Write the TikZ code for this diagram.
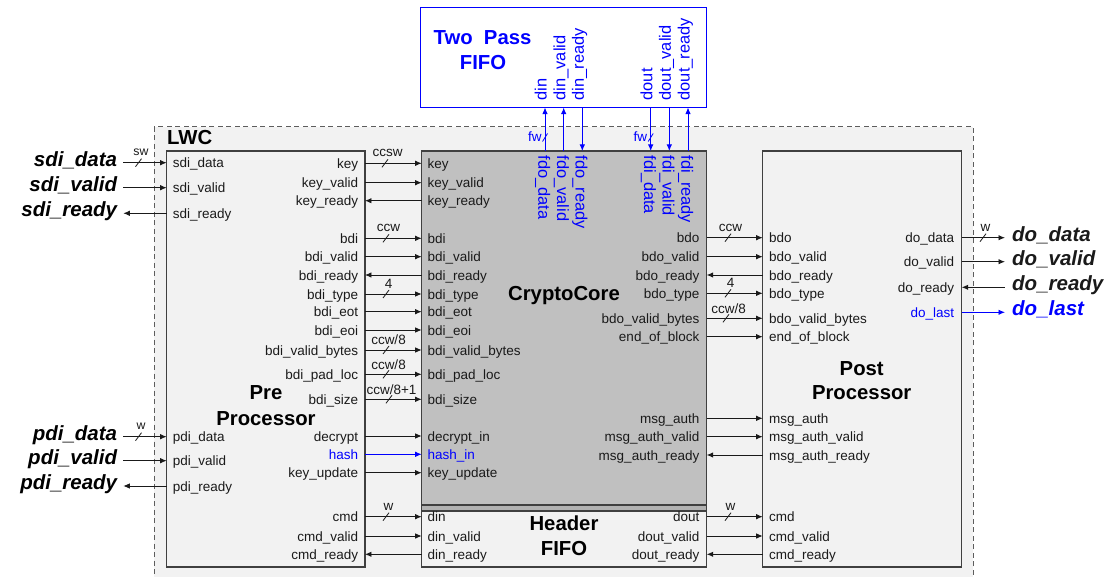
\documentclass[tikz,border=0pt]{standalone}
\usepackage{fontspec}
\setmainfont{Liberation Sans}
\usetikzlibrary{arrows.meta}
\definecolor{bg}{HTML}{F2F2F2}
\definecolor{coregray}{HTML}{C0C0C0}
\definecolor{edge}{HTML}{404040}
\definecolor{wirec}{HTML}{1A1A1A}
\definecolor{fblue}{HTML}{0000FF}
\newcommand\busmark[5][13.5]{%
  \draw[wire,line width=0.8pt] (#3-3,#4+4) -- (#3+3,#4-4);
  \node[buslab,font=\fontsize{#1}{#1}\selectfont] (#2) at (#3+2.5,#4-10) {#5};}
\begin{document}
\begin{tikzpicture}[x=1pt,y=-1pt,
  lab/.style={font=\fontsize{13.5}{15}\selectfont, inner sep=0pt, text=wirec},
  labR/.style={lab, anchor=mid east},
  labL/.style={lab, anchor=mid west},
  vlab/.style={font=\fontsize{16.4}{18}\selectfont, inner sep=0pt, text=fblue},
  vlabU/.style={vlab, rotate=90, anchor=mid west},
  vlabD/.style={vlab, rotate=-90, anchor=mid west},
  ext/.style={font=\fontsize{20.5}{23}\selectfont\bfseries\itshape, inner ysep=0pt, text=black},
  title/.style={font=\fontsize{20.3}{23}\selectfont\bfseries, inner sep=0pt, anchor=base, text=black},
  buslab/.style={inner sep=0pt, text=wirec},
  wire/.style={draw=wirec, line width=0.9pt},
  tor/.style={-{Latex[length=6.5pt,width=5.5pt]}},
  tol/.style={{Latex[length=6.5pt,width=5.5pt]}-},
  blk/.style={draw=edge, line width=1.1pt, inner sep=0pt, outer sep=0pt}]
\useasboundingbox (0,0) rectangle (1111,577);
\clip (0,0) rectangle (1111,577);
\fill[white] (0,0) rectangle (1111,577);
% LWC region
\draw[draw=edge!85, fill=bg, line width=1pt, dash pattern=on 5pt off 3.5pt] (154,127) rectangle (973.3,600);
\node[title, anchor=base west] (lwc) at (167,145) {LWC};
% blocks
\node[blk, fill=bg, minimum width=198.3pt, minimum height=416pt] (pre) at (265.8,359) {};
\node[blk, fill=coregray, minimum width=285pt, minimum height=354pt] (core) at (564.2,328) {};
\node[blk, fill=gray!60, line width=1.4pt, minimum width=285pt, minimum height=6pt] (band) at (564.2,508) {};
\node[blk, fill=bg, minimum width=285pt, minimum height=56pt] (hfifo) at (564.2,539) {};
\node[blk, fill=bg, minimum width=199pt, minimum height=416pt] (post) at (862.2,359) {};
\node[draw=fblue, line width=1pt, fill=white, minimum width=286pt, minimum height=99.7pt, inner sep=0pt] (fifo) at (563.7,57.2) {};
% titles
\node[title] (preA) at (266,399.3) {Pre};
\node[title] (preB) at (266,425) {Processor};
\node[title] (coreT) at (564,301) {CryptoCore};
\node[title] (postA) at (861.7,375.7) {Post};
\node[title] (postB) at (861.7,399) {Processor};
\node[title] (hA) at (564,530.7) {Header};
\node[title] (hB) at (564,555) {FIFO};
\node[title, text=fblue] (fA) at (482.5,45) {Two\ \ Pass};
\node[title, text=fblue] (fB) at (483,69.3) {FIFO};
% external inputs
\foreach \yy/\la/\dr [count=\i] in {162.7/sdi\_data/tor, 187.7/sdi\_valid/tor, 213.3/sdi\_ready/tol,
  436.7/pdi\_data/tor, 460.7/pdi\_valid/tor, 486/pdi\_ready/tol}{
  \coordinate (ri\i) at (0,\yy);
  \node[ext, anchor=mid east, inner xsep=6pt] (xi\i) at (123.3,\yy+1) {\la};
  \node[labL] (pi\i) at (172.7,\yy+2.5) {\la};
  \draw[wire,\dr] (xi\i.east |- ri\i) -- (pre.west |- ri\i);
}
% pre -> core
\foreach \yy/\la/\lb/\dr/\cl/\tg [count=\i] in {
  163.3/key/key/tor/wirec/core, 182.7/key\_valid/key\_valid/tor/wirec/core, 200.7/key\_ready/key\_ready/tol/wirec/core,
  238.3/bdi/bdi/tor/wirec/core, 256.7/bdi\_valid/bdi\_valid/tor/wirec/core, 275/bdi\_ready/bdi\_ready/tol/wirec/core,
  294/bdi\_type/bdi\_type/tor/wirec/core, 311.7/bdi\_eot/bdi\_eot/tor/wirec/core, 330/bdi\_eoi/bdi\_eoi/tor/wirec/core,
  350/bdi\_valid\_bytes/bdi\_valid\_bytes/tor/wirec/core, 374.3/bdi\_pad\_loc/bdi\_pad\_loc/tor/wirec/core,
  399.3/bdi\_size/bdi\_size/tor/wirec/core, 436/decrypt/decrypt\_in/tor/wirec/core, 454.3/hash/hash\_in/tor/fblue/core,
  472.7/key\_update/key\_update/tor/wirec/core,
  516.7/cmd/din/tor/wirec/hfifo, 536/cmd\_valid/din\_valid/tor/wirec/hfifo, 554.3/cmd\_ready/din\_ready/tol/wirec/hfifo}{
  \coordinate (rp\i) at (0,\yy);
  \node[labR, text=\cl] (pl\i) at (358.3,\yy+2.5) {\la};
  \node[labL, text=\cl] (cl\i) at (427.3,\yy+2.5) {\lb};
  \draw[wire, draw=\cl, \dr] (pre.east |- rp\i) -- (\tg.west |- rp\i);
}
% core -> post
\foreach \yy/\la/\lb/\dr/\tg [count=\i] in {
  237.7/bdo/bdo/tor/core, 256.7/bdo\_valid/bdo\_valid/tor/core, 275/bdo\_ready/bdo\_ready/tol/core,
  293.3/bdo\_type/bdo\_type/tor/core, 318.3/bdo\_valid\_bytes/bdo\_valid\_bytes/tor/core,
  336.7/end\_of\_block/end\_of\_block/tor/core, 418.3/msg\_auth/msg\_auth/tor/core,
  436.7/msg\_auth\_valid/msg\_auth\_valid/tor/core, 455/msg\_auth\_ready/msg\_auth\_ready/tol/core,
  516.7/dout/cmd/tor/hfifo, 536/dout\_valid/cmd\_valid/tor/hfifo, 554.3/dout\_ready/cmd\_ready/tol/hfifo}{
  \coordinate (rc\i) at (0,\yy);
  \node[labR] (cr\i) at (699.5,\yy+2.5) {\la};
  \node[labL] (ql\i) at (769,\yy+2.5) {\lb};
  \draw[wire, \dr] (\tg.east |- rc\i) -- (post.west |- rc\i);
}
% post outputs
\foreach \yy/\la/\dr/\cl [count=\i] in {237.7/do\_data/tor/wirec, 261.7/do\_valid/tor/wirec,
  287.3/do\_ready/tol/wirec, 312.3/do\_last/tor/fblue}{
  \coordinate (ro\i) at (0,\yy);
  \node[labR, text=\cl] (po\i) at (954.3,\yy+2.5) {\la};
  \node[ext, text=\cl, anchor=mid west, inner xsep=7pt] (xo\i) at (1005,\yy+1) {\la};
  \draw[wire, draw=\cl, \dr] (post.east |- ro\i) -- (xo\i.west |- ro\i);
}
% two pass fifo links
\foreach \xx/\la/\lb/\dr [count=\i] in {545/din/fdo\_data/tor, 563.7/din\_valid/fdo\_valid/tor,
  582.3/din\_ready/fdo\_ready/tol, 650.7/dout/fdi\_data/tol, 669.3/dout\_valid/fdi\_valid/tol,
  688/dout\_ready/fdi\_ready/tor}{
  \coordinate (v\i) at (\xx,0);
  \node[vlabU] (fv\i) at (\xx-1,100.5) {\la};
  \node[vlabD] (cv\i) at (\xx-4,155.5) {\lb};
  \draw[wire, draw=fblue, \dr] (v\i |- core.north) -- (v\i |- fifo.south);
}
\foreach \xx [count=\i] in {545,650.7}{
  \draw[draw=fblue, line width=0.8pt] (\xx-2.5,141.5) -- (\xx+2.5,133.5);
  \node[buslab, text=fblue, anchor=base east, font=\fontsize{13.5}{13.5}\selectfont] (fw\i) at (\xx-3.3,141.5) {fw};
}
% bus width marks
\busmark[12.3]{bsw}{138.5}{162.7}{sw}
\busmark[12.3]{bw1}{138.5}{436.7}{w}
\busmark{bccsw}{385}{163.3}{ccsw}
\busmark{bccw1}{386}{238.3}{ccw}
\busmark{bfour1}{386}{294}{4}
\busmark{bcc8a}{386}{350}{ccw/8}
\busmark{bcc8b}{386}{374.3}{ccw/8}
\busmark{bcc8c}{389}{399.3}{ccw/8+1}
\busmark{bw2}{386}{516.7}{w}
\busmark{bccw2}{728}{237.7}{ccw}
\busmark{bfour2}{728}{293.3}{4}
\busmark{bcc8d}{726}{318.3}{ccw/8}
\busmark{bw3}{728}{516.7}{w}
\busmark{bw4}{983}{237.7}{w}
\end{tikzpicture}
\end{document}
